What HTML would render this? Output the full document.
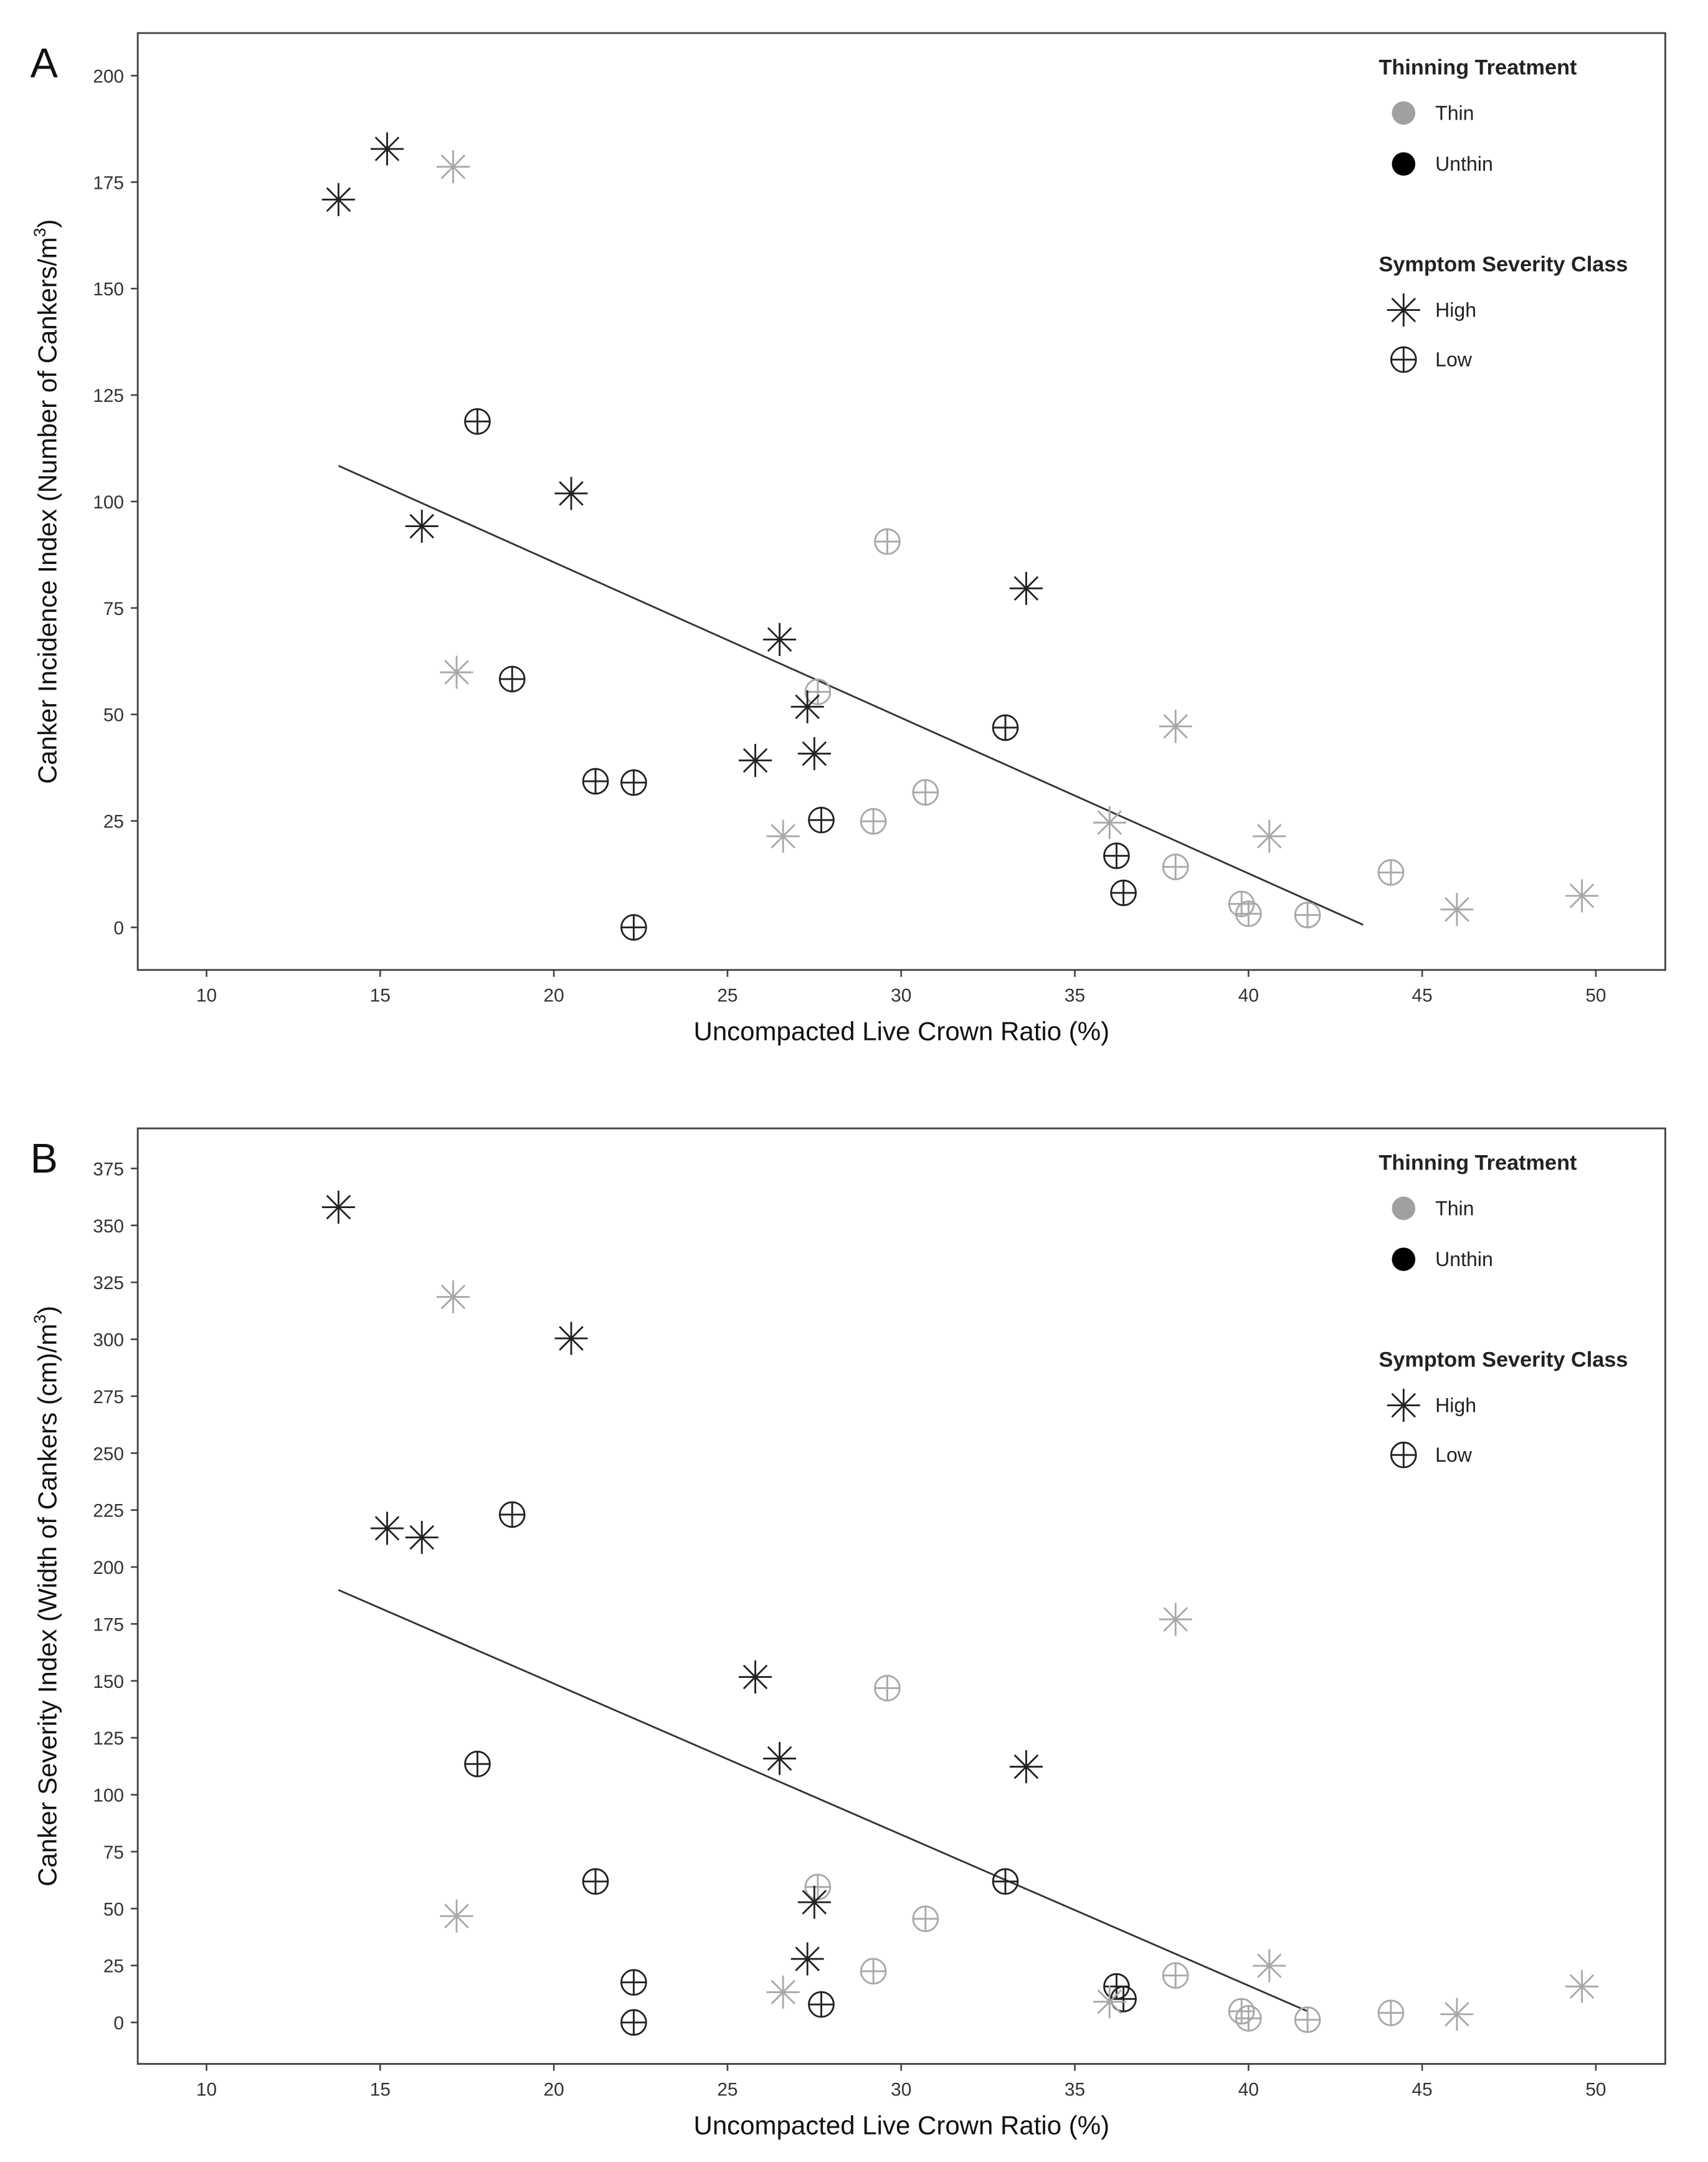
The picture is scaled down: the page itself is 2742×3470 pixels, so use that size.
<!DOCTYPE html>
<html><head><meta charset="utf-8"><style>
html,body{margin:0;padding:0;background:#fff}
svg{display:block;font-family:"Liberation Sans",Arial,sans-serif}
</style></head><body>
<svg id="chart" width="2742" height="3470" viewBox="0 0 1240 1569.2" xmlns="http://www.w3.org/2000/svg"></svg>
<script>
const xTicks=[10,15,20,25,30,35,40,45,50];
const yTicksA=[0,25,50,75,100,125,150,175,200];
const yTicksB=[0,25,50,75,100,125,150,175,200,225,250,275,300,325,350,375];
// panel A: x, y, thinning (T/U), class (H/L)
const aX=[13.8,15.2,17.1,17.8,20.5,16.2,29.6,33.6,26.5,17.2,18.8,27.6,27.3,33.0,37.9,25.8,27.5,21.2,22.3,30.7,29.2,27.7,26.6,36.0,40.6,36.2,36.4,37.9,39.8,40.0,41.7,44.1,46.0,49.6,22.3];
const aY=[170.9,182.8,178.6,118.8,101.9,94.2,90.6,79.6,67.6,59.9,58.3,55.3,51.8,46.9,47.2,39.2,40.8,34.3,34.0,31.7,24.9,25.2,21.4,24.6,21.4,16.8,8.1,14.2,5.5,3.2,2.9,12.9,4.2,7.4,0];
const aT=["U","U","T","U","U","U","T","U","U","T","U","T","U","U","T","U","U","U","U","T","T","U","T","T","T","U","U","T","T","T","T","T","T","T","U"];
const aC=["H","H","H","L","H","H","L","H","H","H","L","L","H","L","H","H","H","L","L","L","L","L","H","H","H","L","L","L","L","L","L","L","H","H","L"];
const aLine=[[13.8,108.4],[43.3,0.6]];
const bX=[13.8,17.1,20.5,15.2,16.2,18.8,37.9,25.8,29.6,26.5,17.8,33.6,21.2,33.0,27.6,27.5,17.2,30.7,27.3,40.6,29.2,37.9,22.3,26.6,49.6,36.2,36.4,36.0,27.7,39.8,44.1,40.0,41.7,46.0,22.3];
const bY=[358,318.6,300.4,217,213,223,177,151.7,146.8,115.9,113.5,112.3,61.9,61.9,59.5,52.8,46.7,45.5,27.9,24.9,22.5,20.6,17.6,13.3,15.8,15.8,10.3,9.1,7.9,4.9,4.2,1.8,1.2,3.6,0];
const bT=["U","T","U","U","U","U","T","U","T","U","U","U","U","U","T","U","T","T","U","T","T","T","U","T","T","U","U","T","U","T","T","T","T","T","U"];
const bC=["H","H","H","H","H","L","H","H","L","H","L","H","L","L","L","H","H","L","H","H","L","L","L","H","H","L","L","H","L","L","L","L","L","H","L"];
const bLine=[[13.8,189.9],[41.7,4.9]];

const NS="http://www.w3.org/2000/svg";
const svg=document.getElementById('chart');
function mk(tag,attrs,parent){const e=document.createElementNS(NS,tag);for(const k in attrs)e.setAttribute(k,attrs[k]);(parent||svg).appendChild(e);return e;}
const COL={T:"#a8a8a8",U:"#222"};
function star(g,cx,cy,col){
  const r=12;
  for(let i=0;i<4;i++){const a=i*Math.PI/4;
    mk('line',{x1:cx-r*Math.cos(a),y1:cy-r*Math.sin(a),x2:cx+r*Math.cos(a),y2:cy+r*Math.sin(a),stroke:col,'stroke-width':1.3},g);}
}
function cplus(g,cx,cy,col){
  const r=9;
  mk('circle',{cx:cx,cy:cy,r:r,fill:'none',stroke:col,'stroke-width':1.3},g);
  mk('line',{x1:cx-r,y1:cy,x2:cx+r,y2:cy,stroke:col,'stroke-width':1.3},g);
  mk('line',{x1:cx,y1:cy-r,x2:cx,y2:cy+r,stroke:col,'stroke-width':1.3},g);
}
function panel(o){
  const L=100,R=1209,T=o.top,B=o.bottom;
  const sx=v=>L+(v-8.02)/(52.0-8.02)*(R-L);
  const sy=v=>B-(v-o.ymin)/(o.ymax-o.ymin)*(B-T);
  const g=mk('g',{});
  
  
  const t=mk('text',{x:22,y:T+32,'font-size':30,fill:'#111'},g);t.textContent=o.letter;
  
  const fr=mk('rect',{x:L,y:T,width:R-L,height:B-T,fill:'#fff',stroke:'#444','stroke-width':1.3},g);
  
  o.yt.forEach(v=>{const y=sy(v);
    mk('line',{x1:L-5,y1:y,x2:L,y2:y,stroke:'#444','stroke-width':1.2},g);
    const tx=mk('text',{x:L-10,y:y+5,'font-size':13.5,'text-anchor':'end',fill:'#333'},g);tx.textContent=v;
    });
  xTicks.forEach(v=>{const x=sx(v);
    mk('line',{x1:x,y1:B,x2:x,y2:B+5,stroke:'#444','stroke-width':1.2},g);
    const tx=mk('text',{x:x,y:B+23,'font-size':13.5,'text-anchor':'middle',fill:'#333'},g);tx.textContent=v;
    });
  const xt=mk('text',{x:(L+R)/2,y:B+51,'font-size':19,'text-anchor':'middle',fill:'#111'},g);xt.textContent="Uncompacted Live Crown Ratio (%)";
  
  const cy=(T+B)/2;
  const yt=mk('text',{x:0,y:0,'font-size':19,'text-anchor':'middle',fill:'#111',transform:`translate(41,${cy}) rotate(-90)`},g);
  yt.innerHTML=o.ytitle+'<tspan dy="-8" font-size="12">3</tspan><tspan dy="8">)</tspan>';
  
  const ln=mk('line',{x1:sx(o.line[0][0]),y1:sy(o.line[0][1]),x2:sx(o.line[1][0]),y2:sy(o.line[1][1]),stroke:'#333','stroke-width':1.3},g);
  
  o.xs.forEach((xv,i)=>{
    const pg=mk('g',{},g);
    
    
    const col=COL[o.th[i]];
    if(o.cl[i]==="H")star(pg,sx(xv),sy(o.ys[i]),col);else cplus(pg,sx(xv),sy(o.ys[i]),col);
  });
  // legend
  const lg=mk('g',{},g);
  
  
  const d=T-24;
  const t1=mk('text',{x:1001,y:d+54,'font-size':15.5,'font-weight':'bold',fill:'#222'},lg);t1.textContent="Thinning Treatment";
  mk('circle',{cx:1019,cy:d+82,r:8.5,fill:'#a0a0a0'},lg);
  const l1=mk('text',{x:1042,y:d+87,'font-size':14.5,fill:'#222'},lg);l1.textContent="Thin";
  mk('circle',{cx:1019,cy:d+119,r:8.5,fill:'#000'},lg);
  const l2=mk('text',{x:1042,y:d+124,'font-size':14.5,fill:'#222'},lg);l2.textContent="Unthin";
  const t2=mk('text',{x:1001,y:d+197,'font-size':15.5,'font-weight':'bold',fill:'#222'},lg);t2.textContent="Symptom Severity Class";
  star(lg,1019,d+225,'#222');
  const l3=mk('text',{x:1042,y:d+230,'font-size':14.5,fill:'#222'},lg);l3.textContent="High";
  cplus(lg,1019,d+261,'#222');
  const l4=mk('text',{x:1042,y:d+266,'font-size':14.5,fill:'#222'},lg);l4.textContent="Low";
}
panel({name:'panel-a',letter:'A',top:24,bottom:704,ymin:-10,ymax:210,yt:yTicksA,xs:aX,ys:aY,th:aT,cl:aC,line:aLine,ytitle:'Canker Incidence Index (Number of Cankers/m'});
panel({name:'panel-b',letter:'B',top:819,bottom:1498,ymin:-18.2,ymax:392.6,yt:yTicksB,xs:bX,ys:bY,th:bT,cl:bC,line:bLine,ytitle:'Canker Severity Index (Width of Cankers (cm)/m'});
</script>
</body></html>
